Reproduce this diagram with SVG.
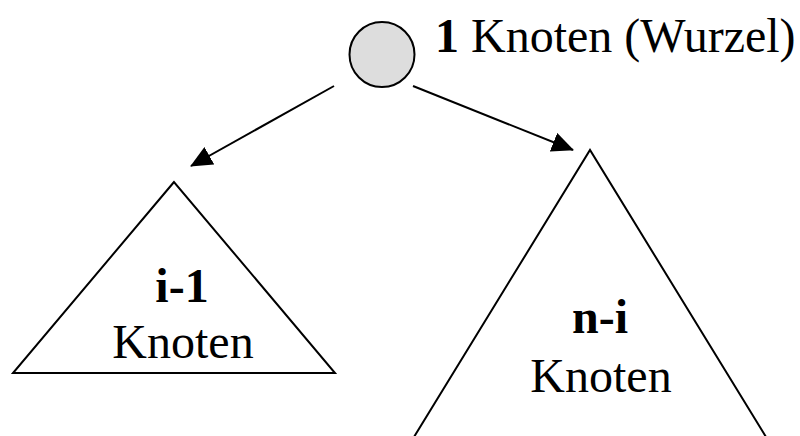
<svg xmlns="http://www.w3.org/2000/svg" width="800" height="436" viewBox="0 0 800 436">
<style>
.t{font-family:"Liberation Serif","Times New Roman",serif;font-size:48px;fill:#000}
.b{font-weight:bold}
.s{fill:none;stroke:#000;stroke-width:2}
</style>
<defs>
<marker id="ah" markerUnits="userSpaceOnUse" markerWidth="22" markerHeight="20" refX="21" refY="10" orient="auto" viewBox="0 0 22 20">
<path d="M0,0 L22,10 L0,20 Z" fill="#000"/>
</marker>
</defs>
<rect width="800" height="436" fill="#fff"/>
<g id="root">
<circle cx="382" cy="54.5" r="32.5" fill="#ddd" stroke="#000" stroke-width="2"/>
<text class="t" x="435" y="52"><tspan class="b">1</tspan> Knoten (Wurzel)</text>
</g>
<g id="left">
<polygon class="s" points="174,182 13,373 335,373"/>
<text class="t b" x="182" y="302" text-anchor="middle">i-1</text>
<text class="t" x="183" y="358" text-anchor="middle">Knoten</text>
</g>
<g id="right">
<polyline class="s" points="406,450 590,150 774,450"/>
<text class="t b" x="600" y="333" text-anchor="middle">n-i</text>
<text class="t" x="601" y="392" text-anchor="middle">Knoten</text>
</g>
<g id="connectors">
<line class="s" x1="334" y1="86" x2="191" y2="166" marker-end="url(#ah)"/>
<line class="s" x1="413" y1="86" x2="573" y2="150" marker-end="url(#ah)"/>
</g>
</svg>
